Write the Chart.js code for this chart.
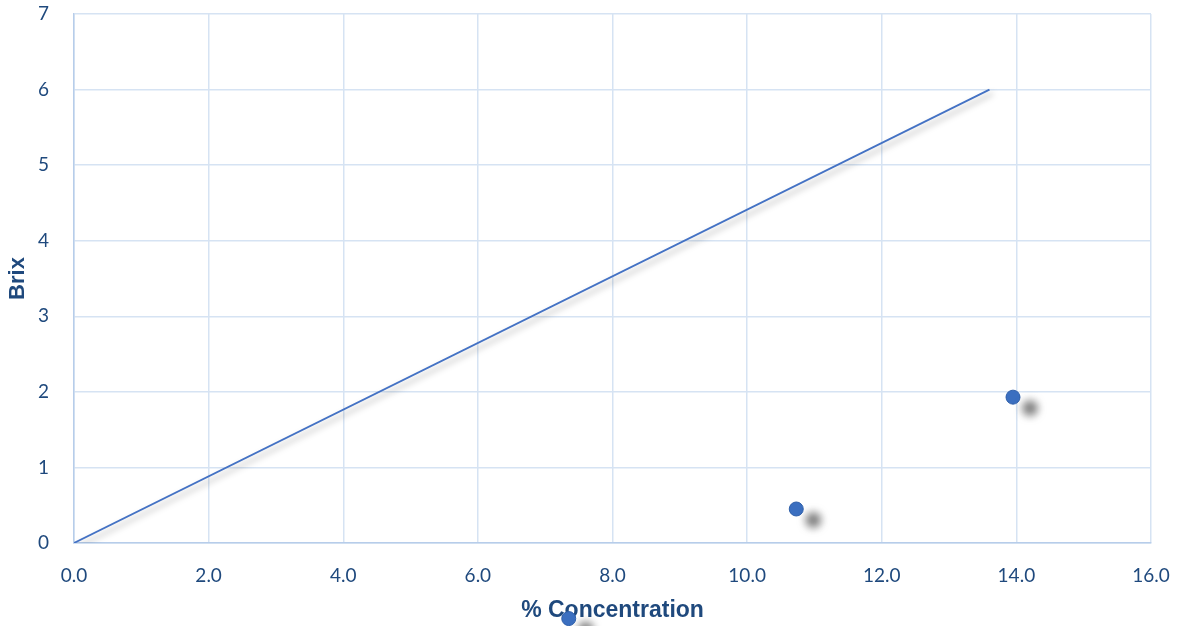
<!DOCTYPE html>
<html>
<head>
<meta charset="utf-8">
<script src="https://cdn.jsdelivr.net/npm/chart.js@4/dist/chart.umd.min.js"></script>
<style>
  html, body { margin: 0; padding: 0; background: #fff; }
  #wrap { width: 1179px; height: 626px; }
</style>
</head>
<body>
<div id="wrap"><canvas id="brixChart"></canvas></div>
<script>
// --- Data ---
const lineX = [0, 13.6];
const lineY = [0, 6];
const sampleX = [7.35, 10.73, 13.95];
const sampleY = [-1.0, 0.45, 1.93];
const xTicks = [0, 2, 4, 6, 8, 10, 12, 14, 16];
const yTicks = [0, 1, 2, 3, 4, 5, 6, 7];

const tickColor = '#1f497d';
const gridColor = '#d6e3f3';

// --- Soft drop shadows like the office chart ---
// (datasets with clip:false also get the whole canvas as their area,
//  so the point below the axis still gets drawn)
const shadowPlugin = {
  id: 'shadows',
  beforeDatasetDraw(chart, args) {
    const ds = chart.data.datasets[args.index];
    if (ds.clip === false) {
      chart._savedArea = chart.chartArea;
      chart.chartArea = { left: 0, top: 0, right: chart.width, bottom: chart.height,
                          width: chart.width, height: chart.height };
    }
    const s = ds.shadow;
    if (!s) return;
    const c = chart.ctx;
    c.save();
    c.shadowColor = s.color;
    c.shadowBlur = s.blur;
    c.shadowOffsetX = s.dx;
    c.shadowOffsetY = s.dy;
  },
  afterDatasetDraw(chart, args) {
    const ds = chart.data.datasets[args.index];
    if (ds.shadow) chart.ctx.restore();
    if (chart._savedArea) {
      chart.chartArea = chart._savedArea;
      chart._savedArea = null;
    }
  }
};

const ctx = document.getElementById('brixChart');

new Chart(ctx, {
  type: 'scatter',
  data: {
    datasets: [{
      label: 'Trend',
      data: lineX.map((x, i) => ({ x, y: lineY[i] })),
      showLine: true,
      borderColor: '#4472c4',
      borderWidth: 1.8,
      pointRadius: 0,
      shadow: { color: 'rgba(0,0,0,0.35)', blur: 6, dx: 3, dy: 4 }
    }, {
      label: 'Samples',
      data: sampleX.map((x, i) => ({ x, y: sampleY[i] })),
      backgroundColor: '#3b6fc0',
      borderColor: '#2f5fa9',
      borderWidth: 1,
      pointRadius: 7,
      clip: false,
      shadow: { color: 'rgba(0,0,0,0.55)', blur: 9, dx: 17, dy: 11 }
    }]
  },
  options: {
    responsive: true,
    maintainAspectRatio: false,
    animation: false,
    events: [],
    layout: { autoPadding: false, padding: { left: 0, right: 28, top: 14, bottom: 0 } },
    plugins: { legend: { display: false }, tooltip: { enabled: false } },
    scales: {
      x: {
        type: 'linear',
        min: 0, max: 16,
        afterBuildTicks: axis => { axis.ticks = xTicks.map(v => ({ value: v })); },
        afterFit: axis => { axis.height = 83; },
        grid: { color: gridColor, lineWidth: 1.5, tickLength: 21, tickColor: 'rgba(0,0,0,0)' },
        border: { color: '#b7cdea', width: 1.5 },
        ticks: {
          color: tickColor,
          padding: 0,
          maxRotation: 0,
          font: { family: 'Lato, "Open Sans", sans-serif', size: 19 },
          callback: v => Number(v).toFixed(1)
        },
        title: {
          display: true,
          text: '% Concentration',
          color: tickColor,
          padding: { top: 0, bottom: 2 },
          font: { family: '"Liberation Sans", Arial, sans-serif', size: 23, weight: 'bold' }
        }
      },
      y: {
        min: 0, max: 7,
        afterBuildTicks: axis => { axis.ticks = yTicks.map(v => ({ value: v })); },
        afterFit: axis => { axis.width = 74; },
        grid: { color: gridColor, lineWidth: 1.5, tickLength: 25, tickColor: 'rgba(0,0,0,0)' },
        border: { color: '#b7cdea', width: 1.5 },
        ticks: {
          color: tickColor,
          padding: 0,
          font: { family: 'Lato, "Open Sans", sans-serif', size: 19 }
        },
        title: {
          display: true,
          text: 'Brix',
          color: tickColor,
          padding: { top: 5, bottom: 0 },
          font: { family: '"Liberation Sans", Arial, sans-serif', size: 22, weight: 'bold' }
        }
      }
    }
  },
  plugins: [shadowPlugin]
});
</script>
</body>
</html>
